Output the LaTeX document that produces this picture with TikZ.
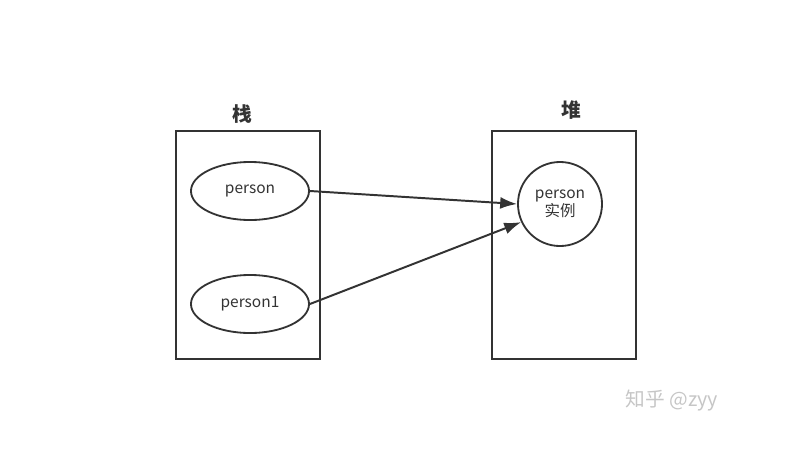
\documentclass[tikz,border=0pt]{standalone}
\usepackage{fontspec}
\setmainfont{Noto Sans CJK SC}
\usepackage{xcolor}
\usepackage{tikz}
\usetikzlibrary{arrows.meta,positioning,shapes.geometric}
\definecolor{linegray}{HTML}{333333}

\begin{document}
\begin{tikzpicture}[>={Latex[length=12pt,width=8.5pt]}, x=0.025cm, y=-0.025cm]
	  \tikzset{area/.style= {draw=linegray, line width=1.4pt, rectangle, minimum width=3.6cm, minimum height=5.7cm},
	  	var/.style={draw=linegray, line width=1.3pt, ellipse, minimum width=2.95cm, minimum height=1.45cm, font=\fontsize{11}{13}\selectfont, text=linegray},
	  	obj/.style={draw=linegray, line width=1.3pt, circle, minimum size=2.1cm, inner sep=0pt, align=center, font=\fontsize{11}{13}\selectfont, text=linegray},
	  	title/.style={font=\fontsize{14}{16}\selectfont\bfseries, text=linegray},
	  	ref/.style={draw=linegray, line width=1.4pt, ->},
	  }
	  \useasboundingbox (0,0) rectangle (811,449);
	  \node [area] (stack) at (248,245) {};
	  \node [area] (heap) at (564,245) {};
	  \node [title, above=1pt of stack, xshift=-4pt] (stacktitle) {栈};
	  \node [title, above=4pt of heap, xshift=5pt] (heaptitle) {堆};
	  \node [var] (person) at (250,191) {person};
	  \node [var] (person1) at (250,304) {person1};
	  \node [obj] (instance) at (560,204) {person\\[0pt]实例};
	  \node [text=gray!45, font=\fontsize{14}{16}\selectfont] (mark) at (672,401) {知乎 @zyy};

	  %% references
	  \path (person.east) edge[ref] (instance.west)
	  (person1.east) edge[ref] (instance.205)
	  ;
	  \end{tikzpicture}
\end{document}
